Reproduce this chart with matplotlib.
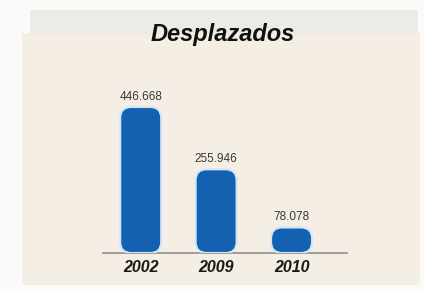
import matplotlib
matplotlib.use("Agg")
import matplotlib.pyplot as plt
from matplotlib.patches import FancyBboxPatch, Rectangle

years = ["2002", "2009", "2010"]
values = [446668, 255946, 78078]
value_labels = ["446.668", "255.946", "78.078"]
title = "Desplazados"

W, H, DPI = 424, 291, 100
fig = plt.figure(figsize=(W / DPI, H / DPI), dpi=DPI)
fig.patch.set_facecolor("#fbfaf8")

# background panel
fig.patches.append(Rectangle((22 / W, 1 - 285 / H), 398 / W, 252 / H,
                             transform=fig.transFigure, facecolor="#f4eee5",
                             edgecolor="none", zorder=-2))
fig.patches.append(Rectangle((30 / W, 1 - 34 / H), 388 / W, 24 / H,
                             transform=fig.transFigure, facecolor="#ecebe7",
                             edgecolor="none", zorder=-2))

ax_l, ax_r, ax_b, ax_t = 103, 347, 253, 60
ax = fig.add_axes([ax_l / W, 1 - ax_b / H, (ax_r - ax_l) / W, (ax_b - ax_t) / H])
ax.set_zorder(2)
ax.set_facecolor("none")
ymax = values[0] * (ax_b - ax_t) / (253 - 107)
ax.set_ylim(0, ymax)
ax.set_xlim(-0.5, 2.735)
x = list(range(len(years)))
bw = 0.543
bars = ax.bar(x, values, width=bw, color="none")

x_per_px = (2.735 + 0.5) / (ax_r - ax_l)
y_per_px = ymax / (ax_b - ax_t)
aspect = y_per_px / x_per_px
for b in bars:
    bx, by, w, h = b.get_x(), b.get_y(), b.get_width(), b.get_height()
    r_px = min(11, (h / y_per_px) / 2, (w / x_per_px) / 2)
    p = FancyBboxPatch((bx, by), w, h,
                       boxstyle=f"round,pad=0,rounding_size={r_px * x_per_px}",
                       mutation_aspect=aspect, facecolor="#1561b1",
                       edgecolor="#d3e6f6", linewidth=1.5, zorder=3)
    ax.add_patch(p)
    b.remove()

for xi, v, lab in zip(x, values, value_labels):
    ax.annotate(lab, (xi, v), xytext=(0, 3), textcoords="offset points",
                ha="center", va="bottom", fontsize=8.5, color="#3a3a3a",
                family="Liberation Sans", zorder=4)

ax.axhline(0, color="#8e8e8e", linewidth=1.2, zorder=2, clip_on=False)
ax.set_xticks(x)
ax.set_xticklabels(years, fontsize=11.5, fontweight="bold", fontstyle="italic",
                   family="Liberation Sans", color="#1a1a1a")
ax.tick_params(axis="x", length=0, pad=5)
ax.set_yticks([])
for s in ax.spines.values():
    s.set_visible(False)

t = fig.text(223 / W, 1 - 41 / H, title, ha="center", va="baseline", fontsize=17,
             fontweight="bold", fontstyle="italic", family="Liberation Sans",
             color="#111111")
t.set_zorder(3)

fig.savefig("out.png", dpi=DPI, facecolor=fig.get_facecolor())
